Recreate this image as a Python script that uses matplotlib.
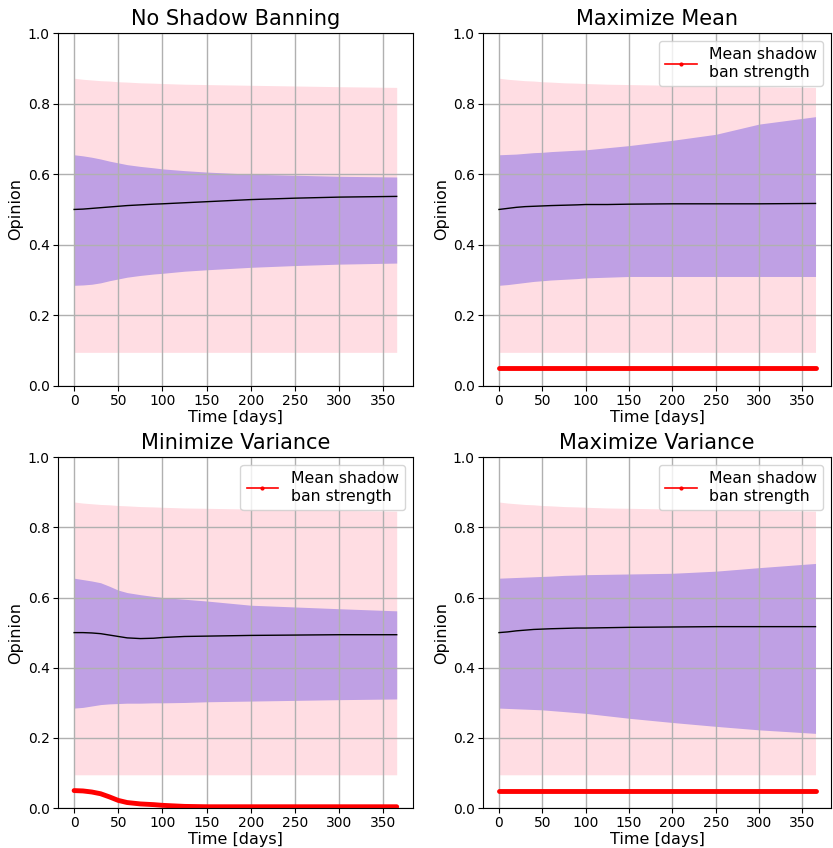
import numpy as np
import matplotlib
matplotlib.use("Agg")
import matplotlib.pyplot as plt
from matplotlib.lines import Line2D

days = [0, 10, 20, 30, 40, 50, 60, 75, 90, 100, 125, 150, 200, 250, 300, 365]

titles = ["No Shadow Banning", "Maximize Mean", "Minimize Variance", "Maximize Variance"]

outer_upper = [0.872, 0.869, 0.867, 0.865, 0.864, 0.862, 0.861, 0.859, 0.858, 0.857, 0.855, 0.854, 0.852, 0.850, 0.848, 0.846]
outer_lower = [0.095] * 16

nsb_upper = [0.655, 0.652, 0.648, 0.643, 0.637, 0.632, 0.627, 0.622, 0.618, 0.615, 0.610, 0.606, 0.600, 0.597, 0.594, 0.592]
nsb_lower = [0.285, 0.286, 0.288, 0.292, 0.298, 0.303, 0.308, 0.313, 0.317, 0.319, 0.325, 0.329, 0.336, 0.341, 0.345, 0.348]
nsb_mean = [0.500, 0.501, 0.503, 0.505, 0.507, 0.509, 0.511, 0.513, 0.515, 0.516, 0.519, 0.522, 0.528, 0.532, 0.535, 0.537]

mm_upper = [0.655, 0.656, 0.657, 0.659, 0.661, 0.662, 0.664, 0.666, 0.668, 0.669, 0.675, 0.681, 0.696, 0.713, 0.742, 0.763]
mm_lower = [0.285, 0.287, 0.290, 0.293, 0.296, 0.298, 0.300, 0.302, 0.304, 0.306, 0.308, 0.310, 0.310, 0.310, 0.310, 0.310]
mm_mean = [0.500, 0.503, 0.506, 0.508, 0.509, 0.510, 0.511, 0.512, 0.513, 0.514, 0.514, 0.515, 0.516, 0.516, 0.516, 0.517]
mm_ban = [0.05] * 16

minv_upper = [0.655, 0.651, 0.647, 0.642, 0.632, 0.621, 0.614, 0.608, 0.603, 0.600, 0.595, 0.590, 0.578, 0.573, 0.568, 0.562]
minv_lower = [0.285, 0.287, 0.291, 0.295, 0.297, 0.298, 0.299, 0.299, 0.300, 0.300, 0.301, 0.303, 0.305, 0.307, 0.309, 0.311]
minv_mean = [0.500, 0.500, 0.499, 0.497, 0.493, 0.489, 0.485, 0.483, 0.484, 0.486, 0.489, 0.490, 0.492, 0.493, 0.494, 0.494]
minv_ban = [0.050, 0.049, 0.046, 0.041, 0.032, 0.022, 0.016, 0.012, 0.010, 0.008, 0.005, 0.004, 0.004, 0.004, 0.004, 0.004]

maxv_upper = [0.655, 0.656, 0.657, 0.658, 0.659, 0.660, 0.661, 0.663, 0.664, 0.665, 0.666, 0.667, 0.669, 0.675, 0.685, 0.697]
maxv_lower = [0.285, 0.284, 0.283, 0.282, 0.281, 0.280, 0.278, 0.275, 0.272, 0.270, 0.263, 0.256, 0.244, 0.233, 0.223, 0.213]
maxv_mean = [0.500, 0.502, 0.505, 0.507, 0.509, 0.510, 0.511, 0.512, 0.513, 0.513, 0.514, 0.515, 0.516, 0.517, 0.517, 0.517]
maxv_ban = [0.05] * 16

panels = [
    (nsb_upper, nsb_lower, nsb_mean, None),
    (mm_upper, mm_lower, mm_mean, mm_ban),
    (minv_upper, minv_lower, minv_mean, minv_ban),
    (maxv_upper, maxv_lower, maxv_mean, maxv_ban),
]

fig = plt.figure(figsize=(8.33, 8.48), dpi=100)
positions = [
    [0.0696, 0.545, 0.426, 0.416],
    [0.580, 0.545, 0.418, 0.416],
    [0.0696, 0.047, 0.426, 0.414],
    [0.580, 0.047, 0.418, 0.414],
]

pink = "#FFDDE3"
purple = "#BFA0E4"

for i, (pos, title, (up, lo, mean, ban)) in enumerate(zip(positions, titles, panels)):
    ax = fig.add_axes(pos)
    ax.fill_between(days, outer_lower, outer_upper, color=pink, linewidth=0)
    ax.fill_between(days, lo, up, color=purple, linewidth=0)
    ax.plot(days, mean, color="black", linewidth=1.0)
    if ban is not None:
        ax.plot(days, ban, color="red", linewidth=3.5, solid_capstyle="round")
        handle = Line2D([], [], color="red", linewidth=1.2, marker=".", markersize=4)
        ax.legend([handle], ["Mean shadow\nban strength"], loc="upper right", fontsize=11.3)
    ax.set_ylim(0, 1)
    ax.set_xticks([0, 50, 100, 150, 200, 250, 300, 350])
    ax.set_yticks([0.0, 0.2, 0.4, 0.6, 0.8, 1.0])
    ax.grid(True, color="#b0b0b0", linewidth=1.0)
    ax.tick_params(labelsize=10, pad=2.5)
    ax.set_title(title, fontsize=15)
    ax.set_xlabel("Time [days]", fontsize=11.5, labelpad=1)
    ax.set_ylabel("Opinion", fontsize=11.5, labelpad=3)

fig.savefig("out.png", dpi=100)
